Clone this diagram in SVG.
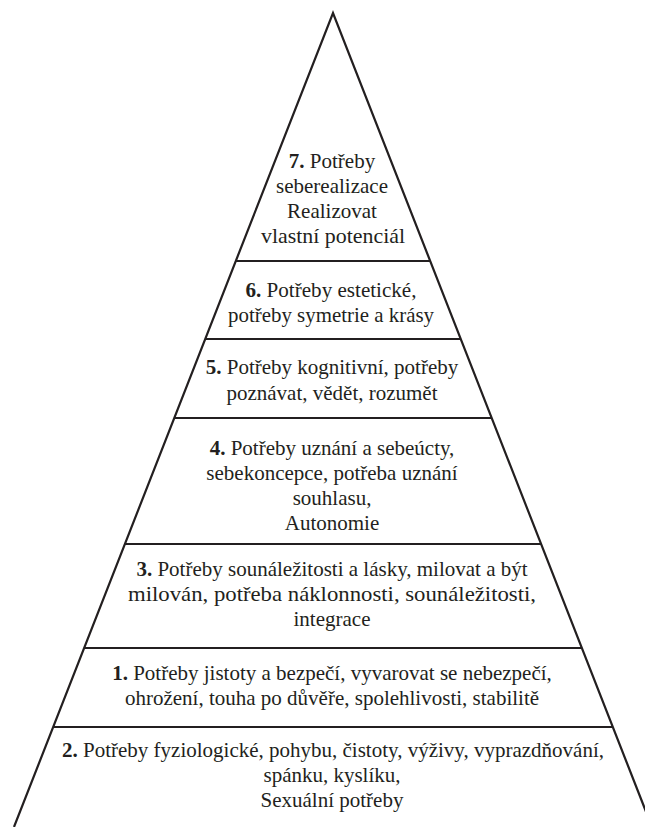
<svg xmlns="http://www.w3.org/2000/svg" width="645" height="827" viewBox="0 0 645 827">
<style>
.ln{stroke:#231f20;stroke-width:2.2;fill:none;stroke-linejoin:miter}
text{font-family:"Liberation Serif","Times New Roman",serif;font-size:21px;fill:#231f20;text-anchor:middle}
.b{font-weight:bold}
</style>
<rect width="645" height="827" fill="#ffffff"/>
<g id="outline">
<polyline class="ln" points="14,827 333,13 652,827"/>
<line class="ln" x1="235.8" y1="261" x2="430.2" y2="261"/>
<line class="ln" x1="205.2" y1="339" x2="460.8" y2="339"/>
<line class="ln" x1="174.3" y1="418" x2="491.7" y2="418"/>
<line class="ln" x1="124.9" y1="544" x2="541.1" y2="544"/>
<line class="ln" x1="84.1" y1="648" x2="581.9" y2="648"/>
<line class="ln" x1="53.2" y1="727" x2="612.8" y2="727"/>
</g>
<g id="level7">
<text x="332" y="168"><tspan class="b">7.</tspan> Potřeby</text>
<text x="332" y="193">seberealizace</text>
<text x="332" y="218">Realizovat</text>
<text x="333" y="243" textLength="144" lengthAdjust="spacingAndGlyphs">vlastní potenciál</text>
</g>
<g id="level6">
<text x="331" y="297" textLength="171" lengthAdjust="spacingAndGlyphs"><tspan class="b">6.</tspan> Potřeby estetické,</text>
<text x="331" y="322" textLength="206" lengthAdjust="spacingAndGlyphs">potřeby symetrie a krásy</text>
</g>
<g id="level5">
<text x="332" y="374"><tspan class="b">5.</tspan> Potřeby kognitivní, potřeby</text>
<text x="332" y="400">poznávat, vědět, rozumět</text>
</g>
<g id="level4">
<text x="332" y="455"><tspan class="b">4.</tspan> Potřeby uznání a sebeúcty,</text>
<text x="332" y="480">sebekoncepce, potřeba uznání</text>
<text x="332" y="505">souhlasu,</text>
<text x="332" y="530">Autonomie</text>
</g>
<g id="level3">
<text x="332" y="576"><tspan class="b">3.</tspan> Potřeby sounáležitosti a lásky, milovat a být</text>
<text x="332" y="601" textLength="408" lengthAdjust="spacingAndGlyphs">milován, potřeba náklonnosti, sounáležitosti,</text>
<text x="332" y="626">integrace</text>
</g>
<g id="level1">
<text x="332" y="680"><tspan class="b">1.</tspan> Potřeby jistoty a bezpečí, vyvarovat se nebezpečí,</text>
<text x="332" y="705">ohrožení, touha po důvěře, spolehlivosti, stabilitě</text>
</g>
<g id="level2">
<text x="333" y="757"><tspan class="b">2.</tspan> Potřeby fyziologické, pohybu, čistoty, výživy, vyprazdňování,</text>
<text x="332" y="782">spánku, kyslíku,</text>
<text x="332" y="807">Sexuální potřeby</text>
</g>
</svg>
